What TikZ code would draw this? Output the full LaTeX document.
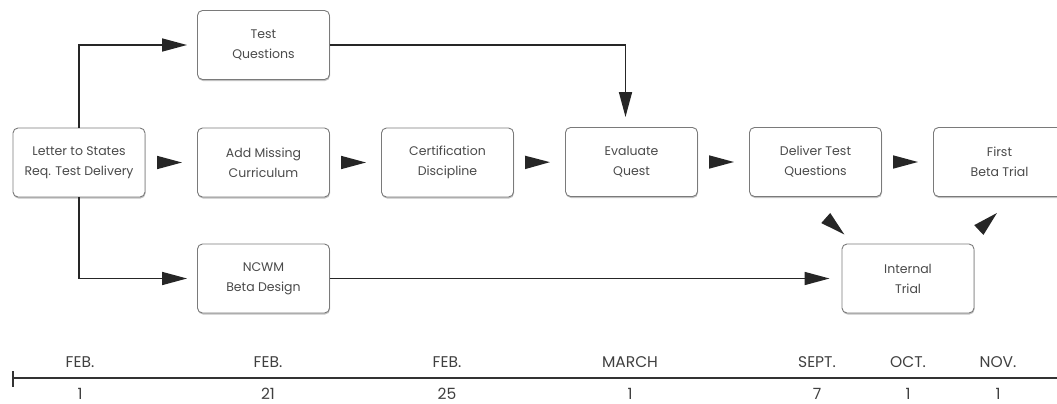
\documentclass[tikz,border=0pt]{standalone}
\usepackage{fontspec}
\setmainfont{Poppins}
\usetikzlibrary{arrows.meta,shadows}
\definecolor{boxline}{HTML}{7A7A7A}
\definecolor{boxtext}{HTML}{4A4A4A}
\tikzset{
  stepbox/.style={draw=boxline, line width=0.9pt, rounded corners=5pt, fill=white,
    minimum width=132pt, minimum height=69pt, align=center, text=boxtext,
    font=\fontsize{12.5}{20}\selectfont,
    drop shadow={shadow xshift=0.5pt, shadow yshift=-1.5pt, fill=black!40, opacity=0.6}},
  flow/.style={line width=1.6pt, draw=black!85, -{Triangle[length=25pt,width=13pt]}},
  datelbl/.style={text=black!75, font=\fontsize{15.5}{17}\selectfont}
}
\begin{document}
\begin{tikzpicture}[x=1pt,y=-1pt]
  \useasboundingbox (0,0) rectangle (1057,404);
  % boxes
  \node[stepbox] (letter) at (79,162.5) {Letter to States\\Req. Test Delivery};
  \node[stepbox] (test) at (263.5,45) {Test\\Questions};
  \node[stepbox] (add) at (263.5,162.5) {Add Missing\\Curriculum};
  \node[stepbox] (cert) at (447.5,162.5) {Certification\\Discipline};
  \node[stepbox] (eval) at (631.5,162) {Evaluate\\Quest};
  \node[stepbox] (deliver) at (815.5,162) {Deliver Test\\Questions};
  \node[stepbox] (first) at (999.5,162) {First\\Beta Trial};
  \node[stepbox] (ncwm) at (263.5,278.5) {NCWM\\Beta Design};
  \node[stepbox] (internal) at (908,278.5) {Internal\\Trial};
  % connectors
  \draw[flow, shorten >=10pt] (letter.north) |- (test.west);
  \draw[flow, shorten >=10pt] (letter.south) |- (ncwm.west);
  \draw[flow, shorten >=10pt] (test.east) -| ([xshift=-6pt]eval.north);
  \draw[flow, shorten >=12pt] (ncwm.east) -- (internal.west);
  \draw[flow, shorten <=13pt, shorten >=15pt] (letter.east) -- (add.west);
  \draw[flow, shorten <=13pt, shorten >=15pt] (add.east) -- (cert.west);
  \draw[flow, shorten <=13pt, shorten >=15pt] (cert.east) -- (eval.west);
  \draw[flow, shorten <=13pt, shorten >=15pt] (eval.east) -- (deliver.west);
  \draw[flow, shorten <=13pt, shorten >=15pt] (deliver.east) -- (first.west);
  \draw[flow, shorten <=32.6pt, shorten >=13.5pt] ([xshift=-13.5pt]deliver.south) -- ([xshift=13pt]internal.north west);
  \draw[flow, shorten <=20.5pt, shorten >=23.3pt] ([xshift=-10pt]internal.north east) -- ([xshift=14.5pt]first.south);
  % timeline
  \draw[line width=1.5pt, black!80] (13,378) -- (1057,378);
  \draw[line width=1.2pt, black!80] (13,371) -- (13,387);
  \foreach \x/\m/\d [count=\i] in {80/FEB./1, 268/FEB./21, 447/FEB./25, 630/MARCH/1,
      817/SEPT./7, 908/OCT./1, 998/NOV./1} {
    \node[datelbl] (mon\i) at (\x,362.5) {\m};
    \node[datelbl] (day\i) at (\x,394) {\d};
  }
\end{tikzpicture}
\end{document}
